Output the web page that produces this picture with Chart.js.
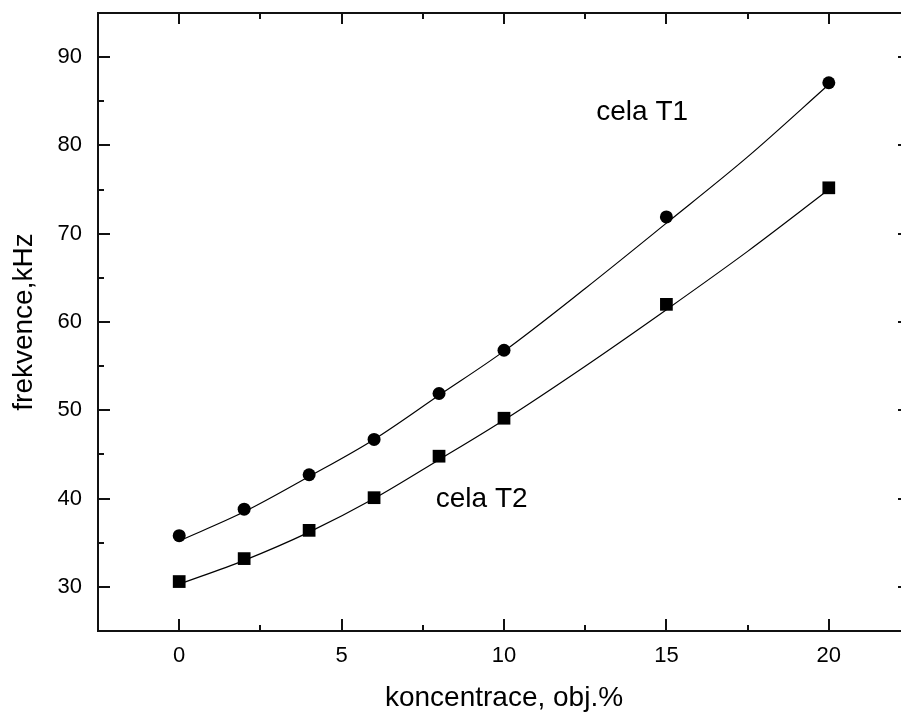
<!DOCTYPE html>
<html lang="cs">

<head>
  <meta charset="UTF-8">
  <title>frekvence - koncentrace</title>
  <script src="https://cdn.jsdelivr.net/npm/chart.js"></script>
  <style>
    body {
      margin: 0;
      background: #fff;
      overflow: hidden;
    }

    #graf {
      display: block;
    }
  </style>
</head>

<body>
  <canvas id="graf" width="920" height="720"></canvas>

  <script>
    // namerene body
    const koncentrace = [0, 2, 4, 6, 8, 10, 15, 20];
    const celaT1 = [35.8, 38.8, 42.7, 46.7, 51.9, 56.8, 71.9, 87.1];
    const celaT2 = [30.6, 33.2, 36.4, 40.1, 44.8, 49.1, 62.0, 75.2];

    // prolozene krivky
    const fitX = [0, 2, 4, 6, 8, 10, 12.5, 15, 17.5, 20];
    const fitT1 = [35.2, 38.5, 42.5, 46.7, 51.7, 56.7, 63.8, 71.2, 78.7, 86.9];
    const fitT2 = [30.3, 33.0, 36.2, 40.0, 44.4, 48.9, 55.0, 61.4, 68.0, 75.0];

    // hodnoty na osach
    const xTicks = [0, 5, 10, 15, 20];
    const yTicks = [30, 40, 50, 60, 70, 80, 90];

    // popisky v grafu
    const popisky = ["cela T1", "cela T2"];
    const popiskyX = [12.84, 7.9];
    const popiskyY = [82.9, 39.1];

    const pismo = "'Liberation Sans', Arial, sans-serif";

    const body = (xs, ys) => xs.map((x, i) => ({ x: x, y: ys[i] }));

    // ramecek a dovnitr smerujici carky
    const ramecek = {
      id: "ramecek",
      afterDraw(chart) {
        const { ctx, chartArea: a, scales: { x, y } } = chart;
        ctx.save();
        ctx.strokeStyle = "#111";
        ctx.lineWidth = 2;
        ctx.strokeRect(a.left, a.top, a.right - a.left, a.bottom - a.top);

        const xm = xTicks.slice(1).map((v, i) => (v + xTicks[i]) / 2);
        const ym = yTicks.slice(1).map((v, i) => (v + yTicks[i]) / 2);

        ctx.beginPath();
        xTicks.forEach(v => {
          const px = Math.round(x.getPixelForValue(v));
          ctx.moveTo(px, a.bottom); ctx.lineTo(px, a.bottom - 12);
          ctx.moveTo(px, a.top); ctx.lineTo(px, a.top + 11);
        });
        xm.forEach(v => {
          const px = Math.round(x.getPixelForValue(v));
          ctx.moveTo(px, a.bottom); ctx.lineTo(px, a.bottom - 6);
          ctx.moveTo(px, a.top); ctx.lineTo(px, a.top + 6);
        });
        yTicks.forEach(v => {
          const py = Math.round(y.getPixelForValue(v));
          ctx.moveTo(a.left, py); ctx.lineTo(a.left + 12, py);
          ctx.moveTo(a.right, py); ctx.lineTo(a.right - 12, py);
        });
        ym.forEach(v => {
          const py = Math.round(y.getPixelForValue(v));
          ctx.moveTo(a.left, py); ctx.lineTo(a.left + 6, py);
          ctx.moveTo(a.right, py); ctx.lineTo(a.right - 6, py);
        });
        ctx.stroke();

        ctx.fillStyle = "#000";
        ctx.font = "28px " + pismo;
        ctx.textAlign = "left";
        ctx.textBaseline = "alphabetic";
        popisky.forEach((t, i) => {
          ctx.fillText(t, x.getPixelForValue(popiskyX[i]), y.getPixelForValue(popiskyY[i]));
        });
        ctx.restore();
      }
    };

    new Chart(document.getElementById("graf"), {
      type: "line",
      data: {
        datasets: [
          {
            label: "fit T1",
            data: body(fitX, fitT1),
            borderColor: "#000",
            borderWidth: 1.2,
            pointRadius: 0,
            cubicInterpolationMode: "monotone",
            fill: false
          },
          {
            label: "fit T2",
            data: body(fitX, fitT2),
            borderColor: "#000",
            borderWidth: 1.2,
            pointRadius: 0,
            cubicInterpolationMode: "monotone",
            fill: false
          },
          {
            label: "cela T1",
            data: body(koncentrace, celaT1),
            showLine: false,
            pointStyle: "circle",
            pointRadius: 6.5,
            pointBackgroundColor: "#000",
            pointBorderWidth: 0
          },
          {
            label: "cela T2",
            data: body(koncentrace, celaT2),
            showLine: false,
            pointStyle: "rect",
            pointRadius: 9,
            pointBackgroundColor: "#000",
            pointBorderWidth: 0
          }
        ]
      },
      options: {
        animation: false,
        responsive: false,
        layout: { padding: { top: 13, right: 10, left: 0, bottom: 0 } },
        scales: {
          x: {
            type: "linear",
            min: -2.5,
            max: 22.5,
            afterBuildTicks: s => { s.ticks = xTicks.map(v => ({ value: v })); },
            afterFit: s => { s.height = 89; s.paddingLeft = 0; s.paddingRight = 0; },
            grid: { display: false, drawTicks: false },
            border: { display: false },
            ticks: {
              padding: 12,
              color: "#000",
              font: { family: pismo, size: 22 }
            },
            title: {
              display: true,
              text: "koncentrace, obj.%",
              color: "#000",
              padding: { top: 0, bottom: 5 },
              font: { family: pismo, size: 28 }
            }
          },
          y: {
            min: 25,
            max: 95,
            afterBuildTicks: s => { s.ticks = yTicks.map(v => ({ value: v })); },
            afterFit: s => { s.width = 98; s.paddingTop = 0; s.paddingBottom = 0; },
            grid: { display: false, drawTicks: false },
            border: { display: false },
            ticks: {
              padding: 16,
              color: "#000",
              font: { family: pismo, size: 22 }
            },
            title: {
              display: true,
              text: "frekvence,kHz",
              color: "#000",
              padding: { top: 7, bottom: 0 },
              font: { family: pismo, size: 28 }
            }
          }
        },
        plugins: {
          legend: { display: false },
          tooltip: { enabled: false }
        }
      },
      plugins: [ramecek]
    });
  </script>
</body>

</html>
